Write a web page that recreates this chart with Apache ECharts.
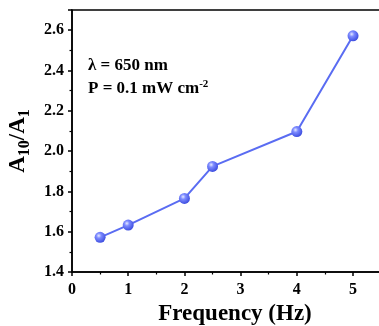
<!DOCTYPE html>
<html><head><meta charset="utf-8">
<script src="https://cdn.jsdelivr.net/npm/echarts@6/dist/echarts.min.js"></script>
<style>html,body{margin:0;padding:0;background:#fff}#c{width:379px;height:326px}</style>
</head><body><div id="c"></div>
<script>
const freq = [0.5, 1, 2, 2.5, 4, 5];
const ratio = [1.572, 1.633, 1.765, 1.924, 2.097, 2.572];
const yTicks = [1.4, 1.6, 1.8, 2.0, 2.2, 2.4, 2.6];
const xTicks = [0, 1, 2, 3, 4, 5];

const font = 'Liberation Serif, Times New Roman, serif';
const chart = echarts.init(document.getElementById('c'));
chart.setOption({
  animation: false,
  backgroundColor: '#fff',
  grid: { left: 72, top: 10, width: 326, height: 262, show: true, borderColor: '#000', borderWidth: 1.5,
    containLabel: false, outerBoundsMode: 'none' },
  xAxis: {
    type: 'value', min: 0, max: 5.8, interval: 1,
    name: 'Frequency (Hz)', nameLocation: 'middle', nameGap: 30,
    nameTextStyle: { fontFamily: font, fontWeight: 'bold', fontSize: 23, color: '#000' },
    axisLine: { show: true, lineStyle: { color: '#000', width: 1.5 } },
    axisTick: { show: true, length: 4, inside: false, lineStyle: { color: '#000', width: 1.5 } },
    minorTick: { show: true, splitNumber: 2, length: 2.5, lineStyle: { color: '#000', width: 1.2 } },
    splitLine: { show: false },
    axisLabel: { fontFamily: font, fontWeight: 'bold', fontSize: 16, color: '#000', margin: 10, showMaxLabel: false,
      formatter: v => xTicks.includes(v) ? String(v) : '' }
  },
  yAxis: {
    type: 'value', min: 1.4, max: 2.7, interval: 0.2,
    name: '{a|A}{s|10}{a|/A}{s|1}', nameLocation: 'middle', nameGap: 37,
    nameTextStyle: { rich: {
      a: { fontFamily: font, fontWeight: 'bold', fontSize: 23, color: '#000' },
      s: { fontFamily: font, fontWeight: 'bold', fontSize: 16, color: '#000', verticalAlign: 'bottom', padding: [14, 0, 0, 0] }
    } },
    axisLine: { show: true, lineStyle: { color: '#000', width: 1.5 } },
    axisTick: { show: true, length: 4, inside: false, lineStyle: { color: '#000', width: 1.5 } },
    minorTick: { show: true, splitNumber: 2, length: 2.5, lineStyle: { color: '#000', width: 1.2 } },
    splitLine: { show: false },
    axisLabel: { fontFamily: font, fontWeight: 'bold', fontSize: 16, color: '#000', margin: 8, showMaxLabel: false,
      formatter: v => { const t = yTicks.find(k => Math.abs(k - v) < 1e-6); return t !== undefined ? t.toFixed(1) : ''; } }
  },
  series: [{
    type: 'line',
    data: freq.map((f, i) => [f, ratio[i]]),
    lineStyle: { color: '#5a6cf2', width: 2 },
    symbol: 'circle', symbolSize: 11,
    itemStyle: {
      color: new echarts.graphic.RadialGradient(0.38, 0.35, 0.65, [
        { offset: 0, color: '#e6eaff' },
        { offset: 0.35, color: '#7d8bff' },
        { offset: 1, color: '#3f4fe0' }
      ]),
      borderWidth: 0
    }
  }],
  graphic: [
    { type: 'text', left: 88, top: 57, style: { text: 'λ = 650 nm', fontFamily: font, fontWeight: 'bold', fontSize: 17, fill: '#000' } },
    { type: 'text', left: 88, top: 79, style: {
      text: '{a|P = 0.1 mW cm}{s|-2}',
      rich: {
        a: { fontFamily: font, fontWeight: 'bold', fontSize: 17, fill: '#000', color: '#000' },
        s: { fontFamily: font, fontWeight: 'bold', fontSize: 11, fill: '#000', color: '#000', verticalAlign: 'top', padding: [0, 0, 9, 0] }
      } } }
  ]
});
</script></body></html>
